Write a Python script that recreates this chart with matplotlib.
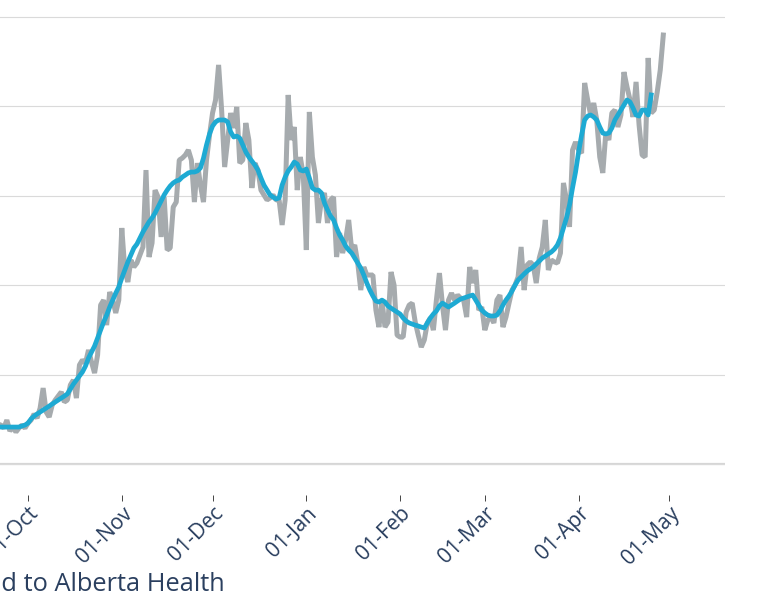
import matplotlib
matplotlib.use("Agg")
import matplotlib.pyplot as plt
import matplotlib.dates as mdates
import pandas as pd

# daily new cases by date reported, starting 2020-09-21
first_day = "2020-09-21"
daily_cases = [
    224, 218, 201, 246, 185, 207, 179, 201, 218, 201,
    229, 246, 280, 257, 313, 425, 291, 263, 330, 358,
    380, 403, 347, 358, 442, 470, 369, 554, 582, 565,
    638, 570, 509, 610, 889, 917, 777, 962, 917, 845,
    917, 1320, 1085, 1018, 1141, 1102, 1124, 1169, 1214, 1644,
    1158, 1236, 1532, 1493, 1270, 1493, 1197, 1208, 1437, 1465,
    1700, 1711, 1728, 1756, 1700, 1465, 1683, 1560, 1465, 1700,
    1840, 1963, 2036, 2232, 1980, 1661, 1812, 1963, 1879, 1997,
    1683, 1700, 1907, 1812, 1544, 1683, 1644, 1532, 1505, 1477,
    1488, 1505, 1477, 1477, 1337, 1477, 2064, 1812, 1885, 1532,
    1717, 1616, 1197, 1969, 1717, 1616, 1348, 1477, 1516, 1348,
    1477, 1493, 1158, 1292, 1180, 1253, 1365, 1197, 1225, 1124,
    973, 1102, 1057, 1057, 1057, 861, 766, 917, 766, 794,
    1074, 1001, 721, 710, 710, 850, 889, 900, 794, 721,
    654, 694, 789, 817, 749, 917, 1068, 889, 749, 917,
    956, 917, 945, 928, 917, 822, 1102, 1012, 1085, 861,
    878, 749, 805, 822, 789, 917, 945, 766, 822, 900,
    973, 1001, 1046, 1214, 973, 1113, 1130, 1113, 1012, 1152,
    1214, 1365, 1085, 1141, 1130, 1124, 1180, 1572, 1477, 1326,
    1756, 1801, 1756, 1739, 2131, 2036, 1952, 2019, 1924, 1717,
    1628, 1851, 1812, 1963, 1980, 1885, 1952, 2192, 2109, 2036,
    1941, 2137, 1896, 1728, 1717, 2271, 1963, 1980, 2081, 2204,
    2399,
]

# 7-day average, same start date
avg_cases = [
    207, 207, 207, 207, 207, 207, 207, 207, 213, 218,
    229, 252, 268, 280, 291, 302, 313, 324, 336, 347,
    358, 369, 380, 392, 419, 447, 470, 492, 515, 548,
    593, 626, 660, 705, 749, 794, 833, 878, 917, 956,
    990, 1040, 1085, 1130, 1169, 1208, 1230, 1264, 1298, 1326,
    1354, 1376, 1404, 1437, 1471, 1505, 1532, 1555, 1572, 1583,
    1588, 1605, 1616, 1628, 1633, 1633, 1639, 1656, 1711, 1784,
    1846, 1890, 1913, 1924, 1924, 1924, 1913, 1857, 1829, 1834,
    1823, 1784, 1745, 1717, 1695, 1672, 1644, 1600, 1560, 1532,
    1505, 1493, 1482, 1488, 1560, 1605, 1639, 1661, 1689, 1678,
    1644, 1639, 1650, 1600, 1544, 1532, 1532, 1516, 1460, 1421,
    1387, 1365, 1320, 1281, 1253, 1219, 1197, 1180, 1152, 1124,
    1096, 1057, 1012, 973, 940, 912, 906, 917, 906, 884,
    872, 861, 850, 839, 817, 800, 789, 783, 777, 772,
    766, 761, 789, 817, 839, 856, 884, 900, 889, 878,
    889, 900, 912, 923, 928, 934, 940, 945, 917, 889,
    861, 845, 833, 828, 828, 833, 856, 889, 917, 940,
    968, 1001, 1029, 1046, 1063, 1079, 1091, 1102, 1119, 1135,
    1152, 1163, 1175, 1186, 1202, 1225, 1264, 1320, 1376, 1449,
    1544, 1633, 1745, 1840, 1924, 1946, 1952, 1941, 1924, 1885,
    1851, 1846, 1851, 1879, 1924, 1952, 1980, 2008, 2036, 2025,
    1991, 1952, 1946, 1980, 1980, 1952, 2064,
]

y_ticks = [0, 500, 1000, 1500, 2000, 2500]
x_title = "Date reported to Alberta Health"

dates = pd.date_range(first_day, periods=len(daily_cases), freq="D")
avg_dates = dates[:len(avg_cases)]

W, H = 770, 598
fig = plt.figure(figsize=(W / 100, H / 100), dpi=100)
# plot area runs off the left edge of the picture (cropped view)
ax = fig.add_axes([0, 1 - 495 / H, 725 / W, 495 / H])

ax.set_yticks(y_ticks)
ax.grid(axis="y", color="#dadada", linewidth=0.8)
ax.axhline(0, color="#d6d6d6", linewidth=1.6, zorder=1)

ax.plot(dates, daily_cases, color="#a6abae", linewidth=3.6,
        solid_joinstyle="bevel", zorder=2)
ax.plot(avg_dates, avg_cases, color="#1eaad3", linewidth=3.4,
        solid_joinstyle="round", zorder=3)

oct1 = pd.Timestamp("2020-10-01")
ax.set_xlim(oct1 - pd.Timedelta(days=9.26), oct1 + pd.Timedelta(days=230.4))
ax.set_ylim(-173, 2595)

ax.set_xticks(pd.date_range("2020-10-01", "2021-05-01", freq="MS"))
ax.xaxis.set_major_formatter(mdates.DateFormatter("%d-%b"))
ax.tick_params(axis="x", direction="out", length=4.3, width=0.7,
               color="#444444", pad=1.5, labelsize=15.2, labelcolor="#2a3f5f")
ax.tick_params(axis="y", left=False, labelleft=False)
for lbl in ax.get_xticklabels():
    lbl.set_rotation(45)
    lbl.set_ha("right")
    lbl.set_va("top")
    lbl.set_rotation_mode("anchor")
    lbl.set_fontfamily("Open Sans")

for s in ax.spines.values():
    s.set_visible(False)

fig.text(225 / W, 1 - 591 / H, x_title, ha="right", va="baseline",
         fontsize=18.3, color="#2a3f5f", fontfamily="Open Sans")

fig.savefig("out.png", dpi=100)
